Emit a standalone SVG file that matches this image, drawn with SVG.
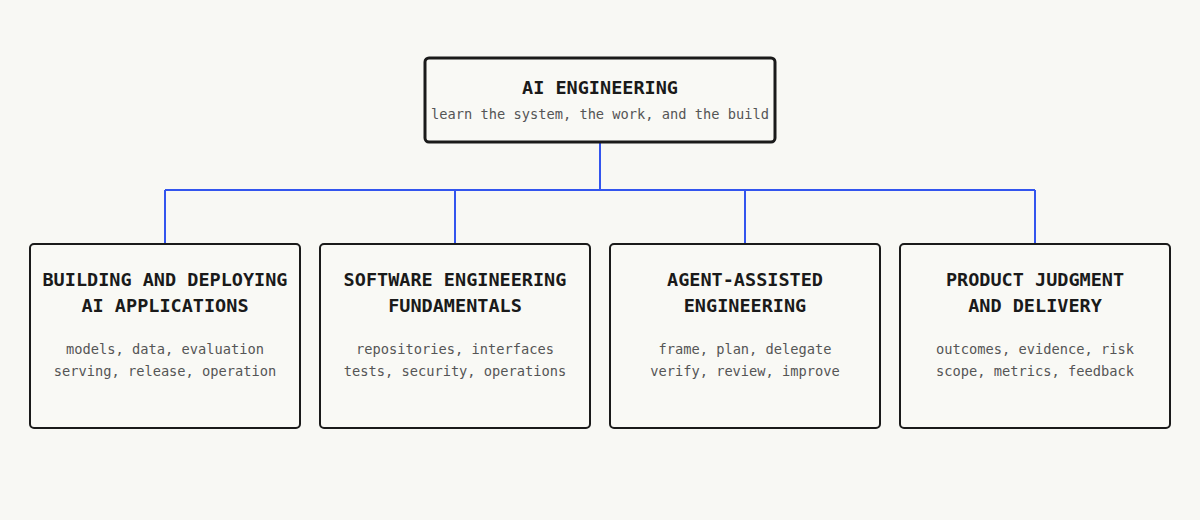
<svg xmlns="http://www.w3.org/2000/svg" width="1200" height="520" viewBox="0 0 1200 520">
<style>
.box{fill:#f9f9f5;stroke:#1a1a1a;stroke-width:2}
.t{font-family:"DejaVu Sans Mono",monospace;font-weight:bold;font-size:18.5px;fill:#1a1a1a;text-anchor:middle}
.s{font-family:"DejaVu Sans Mono",monospace;font-size:13.7px;fill:#555;text-anchor:middle}
.c{stroke:#3355ee;stroke-width:2;fill:none}
</style>
<rect width="1200" height="520" fill="#f8f8f4"/>
<g id="connectors">
<path class="c" d="M600 142V190M165 190H1035M165 190V244M455 190V244M745 190V244M1035 190V244"/>
</g>
<g id="root">
<rect class="box" x="425" y="58" width="350" height="84" rx="4" style="stroke-width:3"/>
<text class="t" x="600" y="94">AI ENGINEERING</text>
<text class="s" x="600" y="119">learn the system, the work, and the build</text>
</g>
<g id="n1">
<rect class="box" x="30" y="244" width="270" height="184" rx="4"/>
<text class="t" x="165" y="286">BUILDING AND DEPLOYING</text>
<text class="t" x="165" y="312">AI APPLICATIONS</text>
<text class="s" x="165" y="354">models, data, evaluation</text>
<text class="s" x="165" y="376">serving, release, operation</text>
</g>
<g id="n2">
<rect class="box" x="320" y="244" width="270" height="184" rx="4"/>
<text class="t" x="455" y="286">SOFTWARE ENGINEERING</text>
<text class="t" x="455" y="312">FUNDAMENTALS</text>
<text class="s" x="455" y="354">repositories, interfaces</text>
<text class="s" x="455" y="376">tests, security, operations</text>
</g>
<g id="n3">
<rect class="box" x="610" y="244" width="270" height="184" rx="4"/>
<text class="t" x="745" y="286">AGENT-ASSISTED</text>
<text class="t" x="745" y="312">ENGINEERING</text>
<text class="s" x="745" y="354">frame, plan, delegate</text>
<text class="s" x="745" y="376">verify, review, improve</text>
</g>
<g id="n4">
<rect class="box" x="900" y="244" width="270" height="184" rx="4"/>
<text class="t" x="1035" y="286">PRODUCT JUDGMENT</text>
<text class="t" x="1035" y="312">AND DELIVERY</text>
<text class="s" x="1035" y="354">outcomes, evidence, risk</text>
<text class="s" x="1035" y="376">scope, metrics, feedback</text>
</g>
</svg>
